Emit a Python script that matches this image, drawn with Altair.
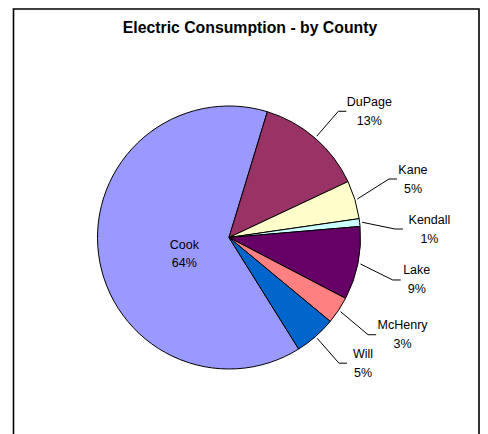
import math
import altair as alt
import pandas as pd

# ---- data -------------------------------------------------------------
counties = ["Cook", "DuPage", "Kane", "Kendall", "Lake", "McHenry", "Will"]
shares = [63.6, 13.3, 4.7, 0.95, 9.0, 3.35, 5.1]
slice_colors = ["#9999FF", "#993366", "#FFFFCC", "#CCFFFF", "#660066", "#FF8080", "#0066CC"]
chart_title = "Electric Consumption - by County"

df = pd.DataFrame({"county": counties, "share": shares, "order": list(range(len(counties)))})

# ---- layout -----------------------------------------------------------
W, H = 472, 426
CX, CY, R = 221, 229.5, 131.5
A0 = math.radians(148.0)      # angle of first slice (Cook)
GAP = 50                      # min vertical distance between overlapping outside labels
ELBOW = 167
FONT = "Arial, Liberation Sans, sans-serif"

base = (
    alt.Chart(df)
    .transform_joinaggregate(total="sum(share)")
    .transform_window(cum="sum(share)", sort=[alt.SortField("order")], frame=[None, 0])
    .transform_calculate(
        frac="datum.share / datum.total",
        pct="round(datum.share / datum.total * 100) + '%'",
        mid=f"{A0} + 2 * PI * (datum.cum - datum.share / 2) / datum.total",
    )
)

pie = alt.Chart(df).mark_arc(radius=R, stroke="black", strokeWidth=1).encode(
    theta=alt.Theta("share:Q", stack=True, scale=alt.Scale(range=[A0, A0 + 2 * math.pi])),
    color=alt.Color("county:N", scale=alt.Scale(domain=counties, range=slice_colors), legend=None),
    order=alt.Order("order:Q", sort="ascending"),
    x=alt.value(CX),
    y=alt.value(CY),
)

# outside labels: natural position at the slice middle, then spread apart
# vertically only where label boxes would overlap horizontally
outside = (
    base.transform_filter("datum.frac < 0.5")
    .transform_calculate(
        sx=f"{CX} + {R + 2.5} * sin(datum.mid)",
        sy=f"{CY} - {R + 2.5} * cos(datum.mid)",
        ex=f"{CX} + {ELBOW} * sin(datum.mid)",
        ey0=f"{CY} - {ELBOW} * cos(datum.mid)",
        w="7 * max(length(datum.county), length(datum.pct))",
    )
    .transform_calculate(lx="datum.ex + 10", rx="datum.ex + 10 + datum.w")
    .transform_window(
        window=[
            {"op": "row_number", "as": "rank"},
            {"op": "lag", "field": "lx", "as": "plx"},
            {"op": "lag", "field": "rx", "as": "prx"},
        ],
        sort=[alt.SortField("ey0")],
    )
    .transform_calculate(
        g=f"(datum.plx != null && datum.lx < datum.prx && datum.plx < datum.rx) ? {GAP} : 0"
    )
    .transform_window(window=[{"op": "sum", "field": "g", "as": "G"}],
                      sort=[alt.SortField("rank")], frame=[None, 0])
    .transform_calculate(z="datum.ey0 - datum.G")
    .transform_window(window=[{"op": "max", "field": "z", "as": "zdown"}],
                      sort=[alt.SortField("rank")], frame=[None, 0])
    .transform_window(window=[{"op": "min", "field": "z", "as": "zup"}],
                      sort=[alt.SortField("rank")], frame=[0, None])
    .transform_calculate(ey="datum.G + (datum.zdown + datum.zup) / 2")
    .transform_calculate(
        hx="datum.ex + 8",
        tx="datum.lx + datum.w / 2",
        ny="datum.ey - 5.5",
        py="datum.ey + 13.5",
    )
)

lead1 = outside.mark_rule(color="black", strokeWidth=1).encode(
    x=alt.X("sx:Q", scale=None, axis=None),
    y=alt.Y("sy:Q", scale=None, axis=None),
    x2="ex:Q",
    y2="ey:Q",
)
lead2 = outside.mark_rule(color="black", strokeWidth=1).encode(
    x=alt.X("ex:Q", scale=None, axis=None),
    y=alt.Y("ey:Q", scale=None, axis=None),
    x2="hx:Q",
    y2="ey:Q",
)

txt_style = dict(align="center", baseline="alphabetic", font=FONT, fontSize=12.5, color="black")
out_name = outside.mark_text(**txt_style).encode(
    x=alt.X("tx:Q", scale=None, axis=None), y=alt.Y("ny:Q", scale=None, axis=None), text="county:N")
out_pct = outside.mark_text(**txt_style).encode(
    x=alt.X("tx:Q", scale=None, axis=None), y=alt.Y("py:Q", scale=None, axis=None), text="pct:N")

inside = base.transform_filter("datum.frac >= 0.5").transform_calculate(
    ix=f"{CX} + 45 * sin(datum.mid)",
    iy=f"{CY} - 45 * cos(datum.mid)",
).transform_calculate(ny="datum.iy + 5.5", py="datum.iy + 24")
in_name = inside.mark_text(**txt_style).encode(
    x=alt.X("ix:Q", scale=None, axis=None), y=alt.Y("ny:Q", scale=None, axis=None), text="county:N")
in_pct = inside.mark_text(**txt_style).encode(
    x=alt.X("ix:Q", scale=None, axis=None), y=alt.Y("py:Q", scale=None, axis=None), text="pct:N")

title_df = pd.DataFrame({"t": [chart_title]})
title = alt.Chart(title_df).mark_text(
    font=FONT, fontSize=15.8, fontWeight="bold", align="center", baseline="alphabetic", color="black"
).encode(x=alt.value(242), y=alt.value(25.3), text="t:N")

frame = alt.Chart(title_df).mark_rect(fillOpacity=0, stroke="black", strokeWidth=1.6).encode(
    x=alt.value(5.5), x2=alt.value(W - 1), y=alt.value(1), y2=alt.value(H + 20)
)

chart = alt.layer(frame, pie, lead1, lead2, out_name, out_pct, in_name, in_pct, title).properties(
    width=W, height=H, padding=0, autosize=alt.AutoSizeParams(type="none"), background="white"
).configure_view(strokeWidth=0)

chart.save("out.html", embed_options={"renderer": "svg", "actions": False})
